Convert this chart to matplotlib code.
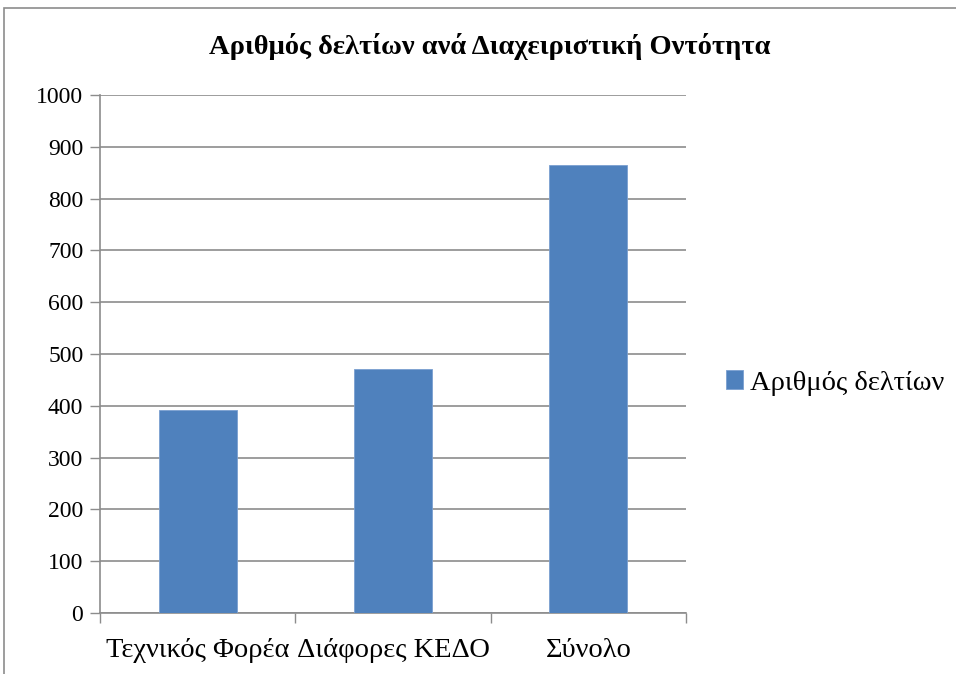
import matplotlib
matplotlib.use("Agg")
import matplotlib.pyplot as plt
from matplotlib.patches import Rectangle

categories = ["Τεχνικός Φορέα", "Διάφορες ΚΕΔΟ", "Σύνολο"]
values = [391, 472, 864]
series_name = "Αριθμός δελτίων"
title = "Αριθμός δελτίων ανά Διαχειριστική Οντότητα"
yticks = list(range(0, 1001, 100))

plt.rcParams["font.family"] = ["Liberation Serif", "DejaVu Serif"]

fig = plt.figure(figsize=(9.56, 6.74), dpi=100)
ax = fig.add_axes([100 / 956, 1 - 613 / 674, 586 / 956, 518 / 674])

# outer chart frame
fig.patches.append(Rectangle((4 / 956, -0.1), 1.1, 1 - 8 / 674 + 0.1,
                             transform=fig.transFigure, fill=False,
                             edgecolor="#8c8c8c", lw=1.2))

bar_color = "#4f81bd"
x = range(len(categories))
ax.bar(x, values, width=0.4, color=bar_color, edgecolor="#7a9fd0", lw=0.6,
       label=series_name, zorder=3)

ax.set_xlim(-0.5, len(categories) - 0.5)
ax.set_ylim(0, 1000)
ax.set_yticks(yticks)
ax.set_yticklabels([str(v) for v in yticks], fontsize=17)
ax.yaxis.grid(True, color="#8c8c8c", lw=1.2, zorder=0)

ax.set_xticks([i - 0.5 for i in range(len(categories) + 1)])
ax.set_xticklabels([])
ax.set_xticks(list(x), minor=True)
ax.set_xticklabels(categories, minor=True, fontsize=20.5)
ax.tick_params(axis="x", which="minor", length=0, pad=18)
ax.tick_params(axis="x", which="major", length=7, color="#8c8c8c", width=1)
ax.tick_params(axis="y", length=7, color="#8c8c8c", width=1, pad=5)

for s in ["top", "right"]:
    ax.spines[s].set_visible(False)
for s in ["left", "bottom"]:
    ax.spines[s].set_color("#8c8c8c")
    ax.spines[s].set_linewidth(1.2)

fig.text(490 / 956, 1 - 47 / 674, title, ha="center", va="center",
         fontsize=20.5, fontweight="bold")

ax.legend(loc="center left", bbox_to_anchor=(726 / 956, 1 - 383 / 674),
          bbox_transform=fig.transFigure, frameon=False, fontsize=20.5,
          handlelength=0.6, handleheight=0.6, handletextpad=0.25,
          borderaxespad=0, borderpad=0)

fig.savefig("out.png", dpi=100)
